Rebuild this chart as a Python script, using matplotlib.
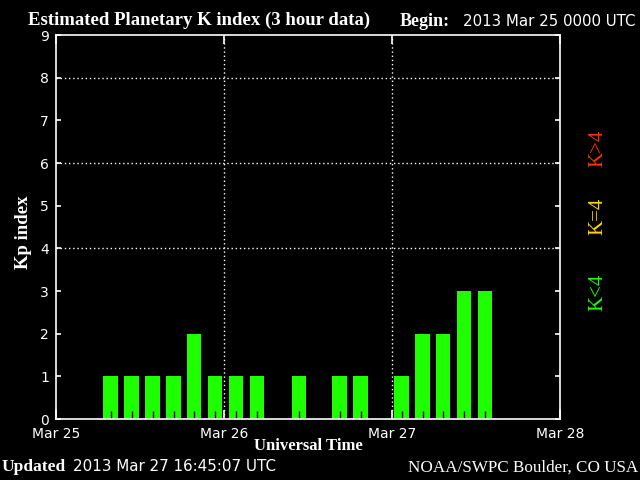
import matplotlib
matplotlib.use("Agg")
import matplotlib.pyplot as plt

# 3-hour Kp values starting 2013 Mar 25 00 UT
hours = [1.8, 4.8, 7.8, 10.8, 13.8, 16.8, 19.7, 22.7, 25.7, 28.7, 31.7,
         34.7, 37.6, 40.5, 43.5, 46.5, 49.4, 52.4, 55.3, 58.3, 61.3]
kp = [0, 0, 1, 1, 1, 1, 2, 1, 1, 1, 0, 1, 0, 1, 1, 0, 1, 2, 2, 3, 3]
day_ticks = [0, 24, 48, 72]
day_labels = ["Mar 25", "Mar 26", "Mar 27", "Mar 28"]

green = "#1eff00"
yellow = "#ffd700"
red = "#ff3300"

fig = plt.figure(figsize=(6.4, 4.8), dpi=100, facecolor="black")
ax = fig.add_axes([0.0875, 0.127, 0.7875, 0.8])
ax.set_facecolor("black")

ax.bar(hours, kp, width=2.1, color=green, linewidth=0, zorder=2)
# small black marks at the foot of each bar
ax.vlines(hours, 0, 0.19, color="black", lw=1, zorder=2.2)

for g in [4, 6, 8]:
    ax.axhline(g, color="white", lw=1, ls=(0, (1, 2)), zorder=1)
for d in [24, 48]:
    ax.axvline(d, color="white", lw=1, ls=(0, (1, 2)), zorder=1)

ax.set_xlim(0, 72)
ax.set_ylim(0, 9)
ax.set_xticks(day_ticks)
ax.set_xticklabels(day_labels)
ax.set_yticks(range(10))
for s in ax.spines.values():
    s.set_color("white")
    s.set_linewidth(1.2)
    s.set_zorder(3)
ax.tick_params(axis="x", direction="in", length=6.5, width=1.2, color="white",
               top=True, labelcolor="white", labelsize=10, pad=6)
ax.tick_params(axis="y", direction="in", length=3.6, width=1.2, color="white",
               right=True, labelcolor="white", labelsize=10, pad=5)

serif = "Liberation Serif"
fig.text(0.044, 0.948, "Estimated Planetary K index (3 hour data)", color="white",
         fontsize=13.5, fontweight="bold", family=serif, va="baseline")
fig.text(0.625, 0.945, "Begin:", color="white", fontsize=13, fontweight="bold",
         family=serif, va="baseline")
fig.text(0.723, 0.945, "2013 Mar 25 0000 UTC", color="white", fontsize=10.8,
         va="baseline")
fig.text(0.003, 0.018, "Updated", color="white", fontsize=12.5, fontweight="bold",
         family=serif, va="baseline")
fig.text(0.114, 0.018, "2013 Mar 27 16:45:07 UTC", color="white", fontsize=10.9,
         va="baseline")
fig.text(0.997, 0.018, "NOAA/SWPC Boulder, CO USA", color="white", fontsize=12.3,
         family=serif, ha="right", va="baseline")
fig.text(0.482, 0.062, "Universal Time", color="white", fontsize=12,
         fontweight="bold", family=serif, ha="center", va="baseline")
fig.text(0.036, 0.517, "Kp index", color="white", fontsize=13.5,
         fontweight="bold", family=serif, rotation=90, ha="center", va="center")

fig.text(0.934, 0.69, "K>4", color=red, fontsize=15, family=serif,
         rotation=90, ha="center", va="center")
fig.text(0.934, 0.55, "K=4", color=yellow, fontsize=15, family=serif,
         rotation=90, ha="center", va="center")
fig.text(0.934, 0.392, "K<4", color=green, fontsize=15, family=serif,
         rotation=90, ha="center", va="center")

fig.savefig("out.png", dpi=100, facecolor="black")
